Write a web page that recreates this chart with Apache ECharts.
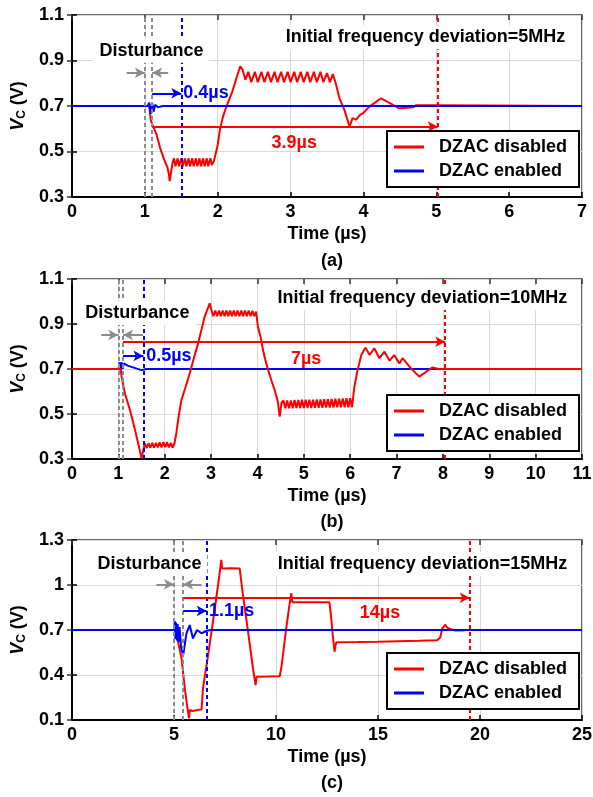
<!DOCTYPE html>
<html><head><meta charset="utf-8">
<script src="https://cdn.jsdelivr.net/npm/echarts@6/dist/echarts.min.js"></script>
<style>html,body{margin:0;padding:0;background:#fff}#c{width:593px;height:797px}</style>
</head><body><div id="c"></div>
<script>
// ---------- DATA ----------
const seriesNames = ['DZAC disabled', 'DZAC enabled'];
const captions = ['(a)', '(b)', '(c)'];
const xName = 'Time (µs)';

const xTicksA = [0, 1, 2, 3, 4, 5, 6, 7];
const yTicksA = [0.3, 0.5, 0.7, 0.9, 1.1];
const xTicksB = [0, 1, 2, 3, 4, 5, 6, 7, 8, 9, 10, 11];
const yTicksB = [0.3, 0.5, 0.7, 0.9, 1.1];
const xTicksC = [0, 5, 10, 15, 20, 25];
const yTicksC = [0.1, 0.4, 0.7, 1.0, 1.3];

const redA = [[0,0.70],[1.06,0.70],[1.08,0.64],[1.10,0.62],[1.16,0.575],[1.21,0.515],[1.27,0.46],[1.31,0.43],[1.33,0.40],[1.34,0.37],[1.36,0.41],[1.38,0.45],
  [1.40,0.47],[1.42,0.435],[1.45,0.47],[1.47,0.435],[1.50,0.47],[1.52,0.435],[1.55,0.47],[1.57,0.435],[1.60,0.47],[1.62,0.435],[1.65,0.47],[1.67,0.435],[1.70,0.47],[1.72,0.435],[1.75,0.47],[1.77,0.435],[1.80,0.47],[1.82,0.435],[1.85,0.47],[1.87,0.435],[1.90,0.47],[1.92,0.44],
  [1.95,0.46],[2.00,0.53],[2.03,0.595],[2.07,0.65],[2.11,0.69],[2.20,0.763],[2.27,0.836],[2.31,0.875],
  [2.34,0.86],[2.38,0.815],[2.42,0.85],[2.46,0.805],[2.51,0.85],[2.55,0.805],[2.60,0.85],[2.64,0.805],[2.69,0.85],[2.73,0.805],[2.78,0.85],[2.82,0.805],[2.87,0.85],[2.91,0.805],[2.96,0.85],[3.00,0.805],[3.05,0.85],[3.09,0.805],[3.14,0.85],[3.18,0.805],[3.23,0.85],[3.27,0.805],[3.32,0.85],[3.36,0.805],[3.41,0.85],[3.45,0.805],[3.50,0.845],[3.54,0.805],[3.58,0.84],[3.61,0.81],
  [3.62,0.80],[3.67,0.735],[3.74,0.682],[3.81,0.609],[3.85,0.647],[3.90,0.64],[3.95,0.66],[4.00,0.67],[4.08,0.697],[4.16,0.715],[4.24,0.734],[4.35,0.715],[4.45,0.697],[4.49,0.69],[4.60,0.692],[4.68,0.694],[4.72,0.703],[5.00,0.703],[5.02,0.70],[7,0.70]];
const blueA = [[0,0.70],[1.04,0.70],[1.06,0.715],[1.08,0.665],[1.10,0.715],[1.12,0.675],[1.14,0.705],[1.18,0.695],[1.25,0.70],[7,0.70]];

const redB = [[0,0.70],[1.05,0.70],[1.07,0.666],[1.14,0.592],[1.25,0.518],[1.36,0.429],[1.46,0.34],[1.50,0.303],[1.55,0.35],[1.57,0.37],
  [1.61,0.348],[1.65,0.37],[1.69,0.35],[1.73,0.372],[1.77,0.35],[1.81,0.372],[1.85,0.352],[1.89,0.374],[1.93,0.352],[1.97,0.375],[2.01,0.353],[2.05,0.375],[2.09,0.352],[2.13,0.372],[2.17,0.35],[2.21,0.37],
  [2.25,0.414],[2.30,0.49],[2.36,0.562],[2.45,0.62],[2.54,0.681],[2.63,0.75],[2.72,0.814],[2.80,0.88],[2.86,0.932],[2.97,0.992],[3.01,0.96],
  [3.05,0.935],[3.09,0.96],[3.13,0.935],[3.17,0.96],[3.21,0.935],[3.25,0.96],[3.29,0.935],[3.33,0.96],[3.37,0.935],[3.41,0.96],[3.45,0.935],[3.49,0.96],[3.53,0.935],[3.57,0.96],[3.61,0.935],[3.65,0.96],[3.69,0.935],[3.73,0.96],[3.77,0.935],[3.81,0.96],[3.85,0.935],[3.89,0.958],[3.93,0.935],[3.97,0.955],
  [4.01,0.888],[4.07,0.84],[4.12,0.784],[4.17,0.74],[4.23,0.696],[4.30,0.65],[4.37,0.607],[4.44,0.555],[4.48,0.488],[4.52,0.55],
  [4.56,0.56],[4.60,0.525],[4.64,0.56],[4.68,0.525],[4.72,0.56],[4.76,0.525],[4.80,0.562],[4.84,0.526],[4.88,0.562],[4.92,0.526],[4.96,0.563],[5.00,0.527],[5.04,0.563],[5.08,0.527],[5.12,0.564],[5.16,0.527],[5.20,0.564],[5.24,0.528],[5.28,0.565],[5.32,0.528],[5.36,0.565],[5.40,0.528],[5.44,0.566],[5.48,0.529],[5.52,0.566],[5.56,0.529],[5.60,0.567],[5.64,0.529],[5.68,0.568],[5.72,0.53],[5.76,0.568],[5.80,0.53],[5.84,0.569],[5.88,0.53],[5.92,0.57],[5.96,0.53],[6.00,0.57],[6.04,0.53],
  [6.09,0.621],[6.16,0.696],[6.24,0.762],[6.33,0.795],[6.42,0.762],[6.52,0.792],[6.63,0.748],[6.74,0.777],[6.85,0.737],[6.95,0.762],[7.06,0.725],[7.13,0.748],[7.31,0.703],[7.49,0.666],[7.64,0.688],[7.78,0.707],[7.92,0.699],[8.00,0.70],[11,0.70]];
const blueB = [[0,0.70],[1.00,0.70],[1.03,0.73],[1.05,0.69],[1.07,0.73],[1.09,0.70],[1.12,0.725],[1.20,0.715],[1.35,0.705],[1.50,0.695],[1.60,0.70],[11,0.70]];

const redC = [[0,0.70],[5.08,0.70],[5.12,0.689],[5.37,0.511],[5.53,0.311],[5.66,0.178],[5.74,0.111],[5.77,0.167],[5.90,0.16],[6.10,0.165],[6.20,0.168],[6.35,0.17],[6.42,0.311],[6.67,0.533],[6.91,0.755],[7.16,1.0],[7.32,1.167],[7.36,1.11],[7.80,1.112],[8.22,1.11],[8.38,0.933],[8.63,0.689],[8.87,0.445],[9.00,0.333],[9.05,0.389],[9.60,0.39],[10.18,0.392],[10.26,0.445],[10.50,0.711],[10.67,0.878],[10.75,0.945],[10.80,0.885],[11.70,0.885],[12.62,0.885],[12.71,0.778],[12.78,0.667],[12.87,0.555],[12.95,0.618],[14,0.62],[15,0.622],[16,0.625],[17,0.628],[17.9,0.632],[18.05,0.65],[18.15,0.71],[18.30,0.735],[18.40,0.715],[18.57,0.705],[18.80,0.697],[19.15,0.697],[19.30,0.70],[25,0.70]];
const blueC = [[0,0.70],[5.00,0.70],[5.04,0.76],[5.07,0.64],[5.10,0.75],[5.14,0.63],[5.18,0.74],[5.22,0.62],[5.27,0.72],[5.35,0.58],[5.45,0.533],[5.61,0.678],[5.77,0.733],[5.93,0.644],[6.13,0.70],[6.35,0.678],[6.60,0.695],[6.80,0.70],[25,0.70]];

// annotation times (µs)
const disturbA = [1.0, 1.1], settleBlueA = 1.5, settleRedA = 5.02;
const disturbB = [1.0, 1.1], settleBlueB = 1.54, settleRedB = 8.05;
const disturbC = [5.0, 5.45], settleBlueC = 6.6, settleRedC = 19.5;
const devLabels = ['Initial frequency deviation=5MHz', 'Initial frequency deviation=10MHz', 'Initial frequency deviation=15MHz'];
const blueLabels = ['0.4µs', '0.5µs', '1.1µs'];
const redLabels = ['3.9µs', '7µs', '14µs'];

// ---------- CHART ----------
const FONT = "'Liberation Sans', Arial, Helvetica, sans-serif";
const RED = '#ff0000', BLUE = '#0000ff', GRAY = '#8c8c8c';
const chart = echarts.init(document.getElementById('c'), null, {renderer: 'canvas'});

const grids = [
  {left: 72, width: 510, top: 15, height: 182},
  {left: 72, width: 510, top: 279, height: 180},
  {left: 72, width: 510, top: 540, height: 180}
].map(g => Object.assign(g, {show: true, borderColor: '#333', borderWidth: 1.5, backgroundColor: 'transparent', containLabel: false, outerBoundsMode: 'none'}));

const xT = [xTicksA, xTicksB, xTicksC], yT = [yTicksA, yTicksB, yTicksC];
const xAxes = [], yAxes = [];
for (let i = 0; i < 3; i++) {
  const xs = xT[i], ys = yT[i];
  xAxes.push({
    type: 'value', gridIndex: i, min: xs[0], max: xs[xs.length - 1], interval: xs[1] - xs[0],
    name: xName, nameLocation: 'middle', nameGap: 28,
    nameTextStyle: {fontSize: 18, fontWeight: 'bold', color: '#000', fontFamily: FONT},
    axisLine: {show: true, lineStyle: {color: '#000', width: 2}},
    axisTick: {show: true, inside: true, length: 5, lineStyle: {color: '#000', width: 1.5}},
    axisLabel: {fontSize: 18, fontWeight: 'bold', color: '#000', fontFamily: FONT, margin: 6, showMinLabel: true, showMaxLabel: true, hideOverlap: false},
    splitLine: {show: true, lineStyle: {color: '#d9d9d9', width: 1}}
  });
  yAxes.push({
    type: 'value', gridIndex: i, min: ys[0], max: ys[ys.length - 1], interval: +(ys[1] - ys[0]).toFixed(3),
    name: '{i|V}{s|C}{n| (V)}', nameLocation: 'middle', nameGap: 44, nameRotate: 90,
    nameTextStyle: {color: '#000', fontFamily: FONT, rich: {
      i: {fontSize: 18, fontStyle: 'italic', fontWeight: 'bold', fontFamily: FONT, color: '#000'},
      s: {fontSize: 12, fontWeight: 'bold', fontFamily: FONT, color: '#000', padding: [8, 0, 0, 0]},
      n: {fontSize: 18, fontWeight: 'bold', fontFamily: FONT, color: '#000'}}},
    axisLine: {show: true, lineStyle: {color: '#000', width: 2}},
    axisTick: {show: true, inside: true, length: 5, lineStyle: {color: '#000', width: 1.5}},
    axisLabel: {fontSize: 18, fontWeight: 'bold', color: '#000', fontFamily: FONT, margin: 8, showMinLabel: true, showMaxLabel: true,
      formatter: v => String(+v.toFixed(2))},
    splitLine: {show: true, lineStyle: {color: '#d9d9d9', width: 1}}
  });
}
for (let i = 0; i < 3; i++) {
  const xs = xT[i], ys = yT[i];
  xAxes.push({type: 'value', gridIndex: i, position: 'top', min: xs[0], max: xs[xs.length - 1], interval: xs[1] - xs[0],
    axisLine: {show: false}, axisLabel: {show: false}, splitLine: {show: false},
    axisTick: {show: true, inside: true, length: 5, lineStyle: {color: '#333', width: 1.5}}});
  yAxes.push({type: 'value', gridIndex: i, position: 'right', min: ys[0], max: ys[ys.length - 1], interval: +(ys[1] - ys[0]).toFixed(3),
    axisLine: {show: false}, axisLabel: {show: false}, splitLine: {show: false},
    axisTick: {show: true, inside: true, length: 5, lineStyle: {color: '#333', width: 1.5}}});
}

function vline(x, color) { return {xAxis: x, lineStyle: {color: color, width: 2, type: [4, 3]}}; }
function arrow(x1, x2, y, color) {
  return [{coord: [x1, y], symbol: 'none', lineStyle: {color: color, width: 2, type: 'solid'}},
          {coord: [x2, y], symbol: 'arrow', symbolSize: [8, 10]}];
}
function txt(x, y, text, color, pos, bg) {
  return {coord: [x, y], name: text, label: {show: true, position: pos, distance: 0, formatter: text, color: color,
    fontSize: 18, fontWeight: 'bold', fontFamily: FONT,
    backgroundColor: bg ? '#fff' : 'transparent', padding: bg ? [3, 6] : 0}};
}

const annos = [
  {d: disturbA, b: settleBlueA, r: settleRedA, gy: 0.846, by: 0.756, ry: 0.609, gl: 0.75, gr: 1.32,
   texts: [txt(1.09, 0.943, 'Disturbance', '#000', 'inside', true), txt(6.86, 1.002, devLabels[0], '#000', 'left', true),
           txt(1.52, 0.756, blueLabels[0], BLUE, 'right', false), txt(3.05, 0.537, redLabels[0], RED, 'inside', false)]},
  {d: disturbB, b: settleBlueB, r: settleRedB, gy: 0.851, by: 0.758, ry: 0.821, gl: 0.63, gr: 1.53,
   texts: [txt(1.41, 0.949, 'Disturbance', '#000', 'inside', true), txt(10.82, 1.016, devLabels[1], '#000', 'left', true),
           txt(1.59, 0.758, blueLabels[1], BLUE, 'right', false), txt(5.05, 0.745, redLabels[1], RED, 'inside', false)]},
  {d: disturbC, b: settleBlueC, r: settleRedC, gy: 1.005, by: 0.827, ry: 0.915, gl: 4.14, gr: 6.35,
   texts: [txt(3.8, 1.14, 'Disturbance', '#000', 'inside', true), txt(24.6, 1.14, devLabels[2], '#000', 'left', true),
           txt(6.69, 0.827, blueLabels[2], BLUE, 'right', false), txt(15.1, 0.815, redLabels[2], RED, 'inside', false)]}
];

const reds = [redA, redB, redC], blues = [blueA, blueB, blueC];
const series = [];
for (let i = 0; i < 3; i++) {
  const redS = {name: seriesNames[0], type: 'line', xAxisIndex: i, yAxisIndex: i, data: reds[i], symbol: 'none', showSymbol: false,
    lineStyle: {color: RED, width: 2}, itemStyle: {color: RED}, z: i === 1 ? 3 : 2, animation: false, silent: true};
  const blueS = {name: seriesNames[1], type: 'line', xAxisIndex: i, yAxisIndex: i, data: blues[i], symbol: 'none', showSymbol: false,
    lineStyle: {color: BLUE, width: 2}, itemStyle: {color: BLUE}, z: i === 1 ? 2 : 3, animation: false, silent: true};
  series.push(redS, blueS);
  const a = annos[i];
  series.push({name: 'marks' + i, type: 'line', xAxisIndex: i, yAxisIndex: i, data: [[a.d[0], a.gy]], symbol: 'none', showSymbol: false,
    lineStyle: {width: 0, opacity: 0}, z: 10, animation: false, silent: true,
    markLine: {silent: true, animation: false, symbol: ['none', 'none'], label: {show: false},
      data: [vline(a.d[0], GRAY), vline(a.d[1], GRAY), vline(a.b, BLUE), vline(a.r, RED),
             arrow(a.gl, a.d[0], a.gy, GRAY), arrow(a.gr, a.d[1], a.gy, GRAY),
             arrow(a.d[1], a.b, a.by, BLUE), arrow(a.d[1], a.r, a.ry, RED)]}});
  series.push({name: 'texts' + i, type: 'line', xAxisIndex: i, yAxisIndex: i, data: [[a.d[0], a.gy]], symbol: 'none', showSymbol: false,
    lineStyle: {width: 0, opacity: 0}, z: 12, animation: false, silent: true,
    markPoint: {silent: true, animation: false, symbol: 'circle', symbolSize: 1, itemStyle: {color: 'transparent'}, data: a.texts}});
}

const legendTops = [131, 395, 653];
const legends = legendTops.map(t => ({
  data: seriesNames.map(n => ({name: n, icon: 'rect'})), orient: 'vertical', left: 387, top: t, itemWidth: 30, itemHeight: 3, itemGap: 6,
  padding: [7, 12, 7, 7], borderColor: '#000', borderWidth: 2, backgroundColor: '#fff', selectedMode: false, z: 20,
  textStyle: {fontSize: 18, lineHeight: 18, fontWeight: 'bold', color: '#000', fontFamily: FONT, padding: [0, 0, 0, 10]}
}));

const titleTops = [247, 508, 769];
const titles = captions.map((c, i) => ({text: c, left: 327, top: titleTops[i], textAlign: 'center',
  textStyle: {fontSize: 18, fontWeight: 'bold', color: '#000', fontFamily: FONT}}));

chart.setOption({
  animation: false,
  backgroundColor: '#fff',
  textStyle: {fontFamily: FONT},
  title: titles,
  legend: legends,
  grid: grids,
  xAxis: xAxes,
  yAxis: yAxes,
  series: series
});
</script></body></html>
